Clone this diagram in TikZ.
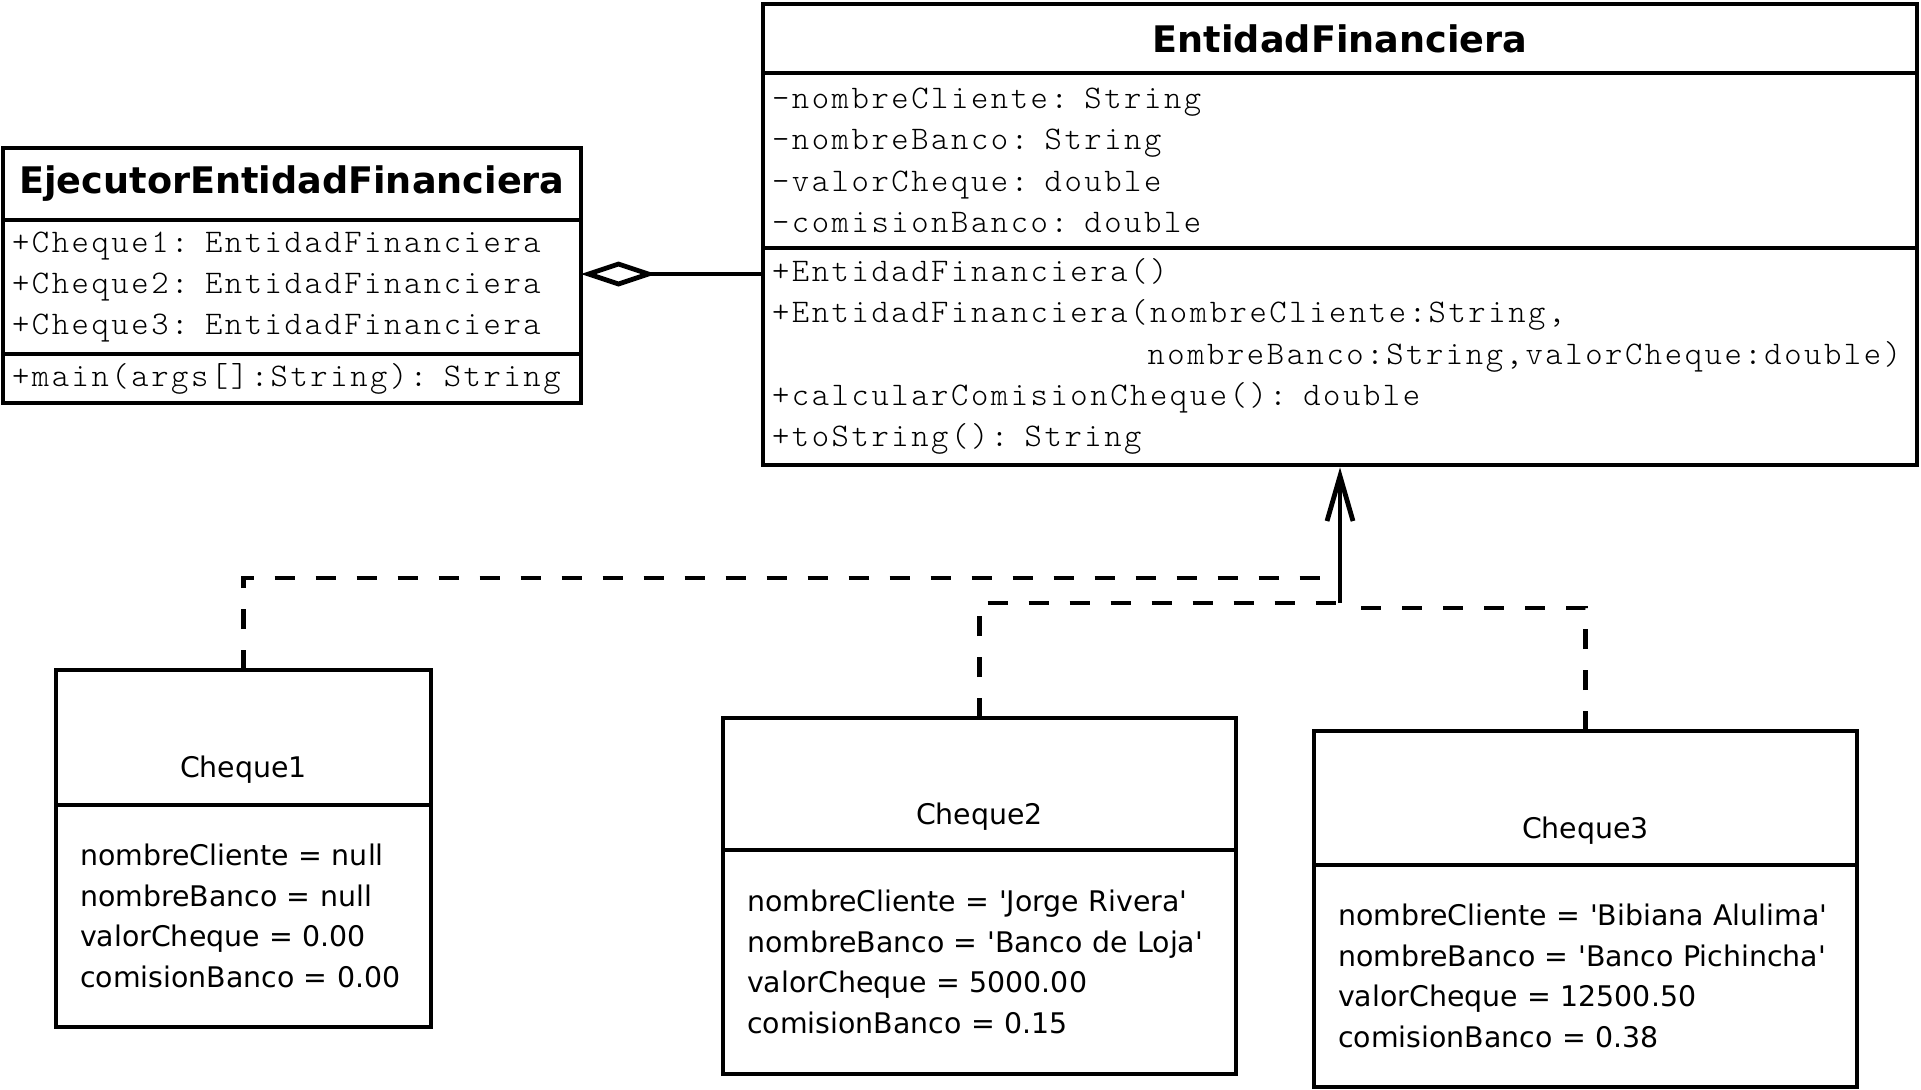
\documentclass[tikz,border=0pt]{standalone}
\usepackage{fontspec}
\setmainfont{DejaVu Sans}
\newfontfamily\umlmono{lmmonolt10-regular}[Extension=.otf, LetterSpace=7.8, WordSpace=1.15]
\usetikzlibrary{positioning,arrows.meta}

\begin{document}
\begin{tikzpicture}[
    x=0.5pt, y=-0.5pt,
    umlbox/.style={
        draw,
        line width=2.4pt,
        outer sep=0pt,
        inner xsep=4.5pt,
        inner ysep=0pt,
        anchor=north
    },
    classname/.style={umlbox, font=\fontsize{18.3}{22}\selectfont\bfseries},
    members/.style={umlbox, font=\umlmono\fontsize{16.5}{20.7}\selectfont, align=left},
    objname/.style={umlbox, font=\fontsize{14.2}{17}\selectfont, text height=40pt, text depth=0pt},
    slots/.style={umlbox, inner xsep=12pt, font=\fontsize{14.2}{20.3}\selectfont, align=left},
    dep/.style={line width=2.4pt, dash pattern=on 10pt off 10.5pt},
    inh/.style={line width=2.4pt, shorten >=1.2pt, -{Straight Barb[length=22.5pt, width=13pt]}}
]
\useasboundingbox (0,0) rectangle (1921,1089);

% EntidadFinanciera
\node[classname, minimum width=577pt, minimum height=34.5pt] (EFt) at (1340,4) {EntidadFinanciera};
\node[members, text width=568pt, minimum height=87.5pt, below=0pt of EFt] (EFa)
    {-nombreCliente: String\\-nombreBanco: String\\-valorCheque: double\\-comisionBanco: double};
\node[members, text width=568pt, minimum height=108.5pt, below=0pt of EFa] (EFm)
    {+EntidadFinanciera()\\+EntidadFinanciera(nombreCliente:String,\\\phantom{+EntidadFinanciera(}nombreBanco:String,valorCheque:double)\\+calcularComisionCheque(): double\\+toString(): String};

% EjecutorEntidadFinanciera
\node[classname, minimum width=289pt, minimum height=36pt] (EJt) at (292,148) {EjecutorEntidadFinanciera};
\node[members, text width=280pt, minimum height=67pt, below=0pt of EJt] (EJa)
    {+Cheque1: EntidadFinanciera\\+Cheque2: EntidadFinanciera\\+Cheque3: EntidadFinanciera};
\node[members, text width=280pt, minimum height=24.5pt, below=0pt of EJa] (EJm)
    {+main(args[]:String): String};

% Objects
\node[objname, minimum width=187.5pt, minimum height=67.5pt] (C1t) at (243.5,670) {Cheque1};
\node[slots, text width=163.5pt, minimum height=111pt, below=0pt of C1t] (C1a)
    {nombreCliente = null\\nombreBanco = null\\valorCheque = 0.00\\comisionBanco = 0.00};

\node[objname, minimum width=256.5pt, minimum height=66pt] (C2t) at (979.5,718) {Cheque2};
\node[slots, text width=232.5pt, minimum height=112pt, below=0pt of C2t] (C2a)
    {nombreCliente = \textquotesingle Jorge Rivera\textquotesingle\\nombreBanco = \textquotesingle Banco de Loja\textquotesingle\\valorCheque = 5000.00\\comisionBanco = 0.15};

\node[objname, minimum width=271.5pt, minimum height=67pt] (C3t) at (1585.5,731) {Cheque3};
\node[slots, text width=247.5pt, minimum height=111pt, below=0pt of C3t] (C3a)
    {nombreCliente = \textquotesingle Bibiana Alulima\textquotesingle\\nombreBanco = \textquotesingle Banco Pichincha\textquotesingle\\valorCheque = 12500.50\\comisionBanco = 0.38};

% Aggregation
\coordinate (agg) at ([yshift=6.5pt]EJa.east);
\draw[line width=2.4pt, {Diamond[open, length=37.5pt, width=12.5pt]}-] (agg) -- (agg -| EFm.west);

% Objects -> class
\coordinate[below=69pt of EFm.south] (join);
\draw[inh] (join) -- (EFm.south);
\draw[dep] (C1t.north) |- ([yshift=12.5pt]join);
\draw[dep] (C2t.north) |- (join);
\draw[dep] (C3t.north) |- ([yshift=-2.5pt]join);

\end{tikzpicture}
\end{document}
